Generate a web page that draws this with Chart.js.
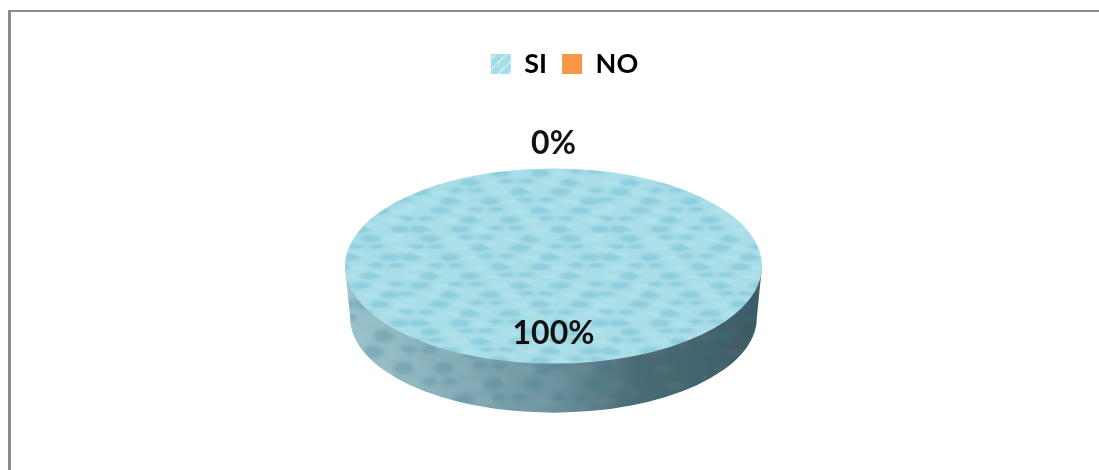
<!DOCTYPE html>
<html>
<head>
<meta charset="utf-8">
<title>SI / NO</title>
<script src="https://cdn.jsdelivr.net/npm/chart.js@4/dist/chart.umd.js"></script>
<style>
  html, body { margin: 0; padding: 0; background: #fff; overflow: hidden; }
  #box { position: absolute; left: 8px; top: 10px; width: 1091px; height: 460px;
         border-top: 2.5px solid #8c8c8c; border-left: 3px solid #8c8c8c; box-sizing: border-box; }
  #wrap { position: absolute; left: 0; top: 0; width: 1099px; height: 470px; }
</style>
</head>
<body>
<div id="box"></div>
<div id="wrap"><canvas id="pie" width="1099" height="470"></canvas></div>
<script>
const categories = ['SI', 'NO'];
const values = [100, 0];

// tilt of the disc
const squash = 0.468;
const depth = 52;
const pieRadius = 208.5;

// each label sits this many radii out from the centre, along the middle of its slice
const labelReach = [0.69, 1.25];

// speckled tile for the fill, blotches wrap round so the tile has no seams
function speckle(base, dark, light) {
    const pitch = 20;
    const count = 10;
    const size = pitch * count;
    const tile = document.createElement('canvas');
    tile.width = size;
    tile.height = size;
    const c = tile.getContext('2d');
    c.fillStyle = base;
    c.fillRect(0, 0, size, size);
    c.filter = 'blur(2px)';
    for (let row = 0; row < count; row++) {
        for (let col = 0; col < count; col++) {
            const n = (row * row * 3 + col * col * 5 + row * col * 2) % 7;
            const x = col * pitch + (row % 2) * 10 + n * 2;
            const y = row * pitch + n * 1.5;
            c.fillStyle = n % 2 ? dark : light;
            for (let dx = -size; dx <= size; dx += size) {
                for (let dy = -size; dy <= size; dy += size) {
                    c.beginPath();
                    c.ellipse(x + dx, y + dy, 5 + n, 5 + (n % 3) * 1.5, 0, 0, Math.PI * 2);
                    c.fill();
                }
            }
        }
    }
    return c.createPattern(tile, 'repeat');
}

const ctx = document.getElementById('pie').getContext('2d');
const faceFill = speckle('#a9dee8', '#8fcedd', '#b0e2eb');
const wallSpots = speckle('rgba(255,255,255,0)', 'rgba(50,110,130,0.22)', 'rgba(255,255,255,0.04)');

// swatch for the legend, with pale diagonal stripes
function legendSwatch() {
    const s = document.createElement('canvas');
    s.width = 11;
    s.height = 11;
    const c = s.getContext('2d');
    c.fillStyle = '#a4dce8';
    c.fillRect(0, 0, 11, 11);
    c.strokeStyle = '#c6ebf2';
    c.lineWidth = 2;
    c.beginPath();
    c.moveTo(-2, 13); c.lineTo(13, -2);
    c.stroke();
    return c.createPattern(s, 'repeat');
}

// draws the side of the disc below the slices, then squashes the slices into an ellipse
const tiltPlugin = {
    id: 'tilt',
    afterLayout(chart) {
        // legend sits a little right of the disc's centre
        chart.legend.left += 22;
    },
    beforeDatasetDraw(chart, args) {
        const arc = chart.getDatasetMeta(args.index).data[0];
        const c = chart.ctx;
        const cx = arc.x, cy = arc.y, r = arc.outerRadius;
        const lowRx = r * 0.975, lowRy = r * squash * 0.97;

        const wall = new Path2D();
        wall.moveTo(cx - r, cy);
        wall.ellipse(cx, cy + depth, lowRx, lowRy, 0, Math.PI, 0, true);
        wall.lineTo(cx + r, cy);
        wall.closePath();

        const shade = c.createLinearGradient(cx - r, 0, cx + r, 0);
        shade.addColorStop(0, '#9ac3cd');
        shade.addColorStop(0.25, '#86afba');
        shade.addColorStop(0.5, '#6b929e');
        shade.addColorStop(0.7, '#4b6c76');
        shade.addColorStop(1, '#3d5a63');
        c.save();
        c.fillStyle = shade;
        c.fill(wall);
        c.clip(wall);
        c.translate(cx, cy);
        c.scale(1, 0.8);
        c.fillStyle = wallSpots;
        c.fillRect(-r, -20, r * 2, 200);
        c.restore();

        c.save();
        c.translate(cx, cy);
        c.scale(1, squash);
        c.translate(-cx, -cy);
    },
    afterDatasetDraw(chart) {
        chart.ctx.restore();
    },
    afterDatasetsDraw(chart) {
        const c = chart.ctx;
        const total = values.reduce((a, b) => a + b, 0);
        c.save();
        c.font = '700 32px Lato';
        c.fillStyle = '#111';
        c.textAlign = 'center';
        c.textBaseline = 'middle';
        chart.getDatasetMeta(0).data.forEach((arc, i) => {
            const mid = (arc.startAngle + arc.endAngle) / 2;
            const x = arc.x + Math.cos(mid) * arc.outerRadius * labelReach[i];
            const y = arc.y + Math.sin(mid) * arc.outerRadius * labelReach[i] * squash;
            c.fillText(Math.round(values[i] / total * 100) + '%', x, y);
        });
        c.restore();
    }
};

new Chart(ctx, {
    type: 'pie',
    data: {
        labels: categories,
        datasets: [{
            data: values,
            backgroundColor: [faceFill, '#f79646'],
            borderWidth: 0,
            radius: pieRadius,
            clip: false
        }]
    },
    options: {
        responsive: false,
        animation: false,
        layout: { padding: { left: 8, bottom: 25.5, top: 35.5 } },
        plugins: {
            tooltip: { enabled: false },
            legend: {
                position: 'top',
                labels: {
                    boxWidth: 20,
                    boxHeight: 20,
                    color: '#111',
                    padding: 15,
                    font: { family: 'Lato', size: 27, weight: '700' },
                    generateLabels(chart) {
                        const swatch = legendSwatch();
                        return categories.map((name, i) => ({
                            text: name,
                            fillStyle: i === 0 ? swatch : '#f79646',
                            strokeStyle: 'transparent',
                            lineWidth: 0,
                            index: i
                        }));
                    }
                }
            }
        }
    },
    plugins: [tiltPlugin]
});
</script>
</body>
</html>
